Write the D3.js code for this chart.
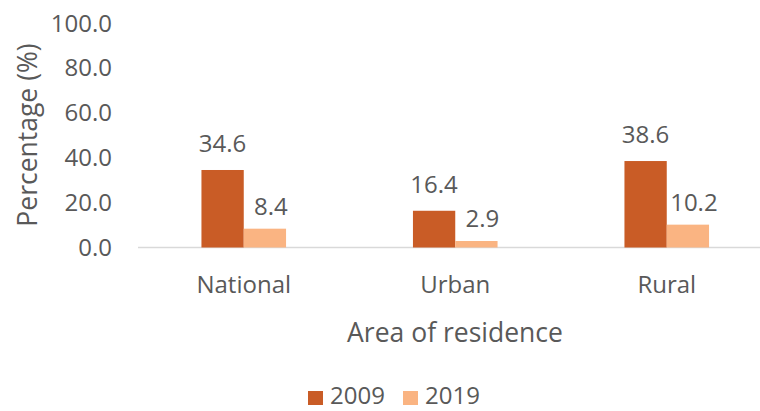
<!DOCTYPE html>
<html><head><meta charset="utf-8">
<script src="https://cdn.jsdelivr.net/npm/d3@7"></script>
<style>body{margin:0;background:#fff}svg{display:block;font-family:"Open Sans",sans-serif}</style>
</head><body>
<svg id="c" width="760" height="411"></svg>
<script>
const categories = ["National", "Urban", "Rural"];
const seriesNames = ["2009", "2019"];
const values2009 = [34.6, 16.4, 38.6];
const values2019 = [8.4, 2.9, 10.2];
const yTicks = [0, 20, 40, 60, 80, 100];
const colors = ["#C95C26", "#FAB482"];

const svg = d3.select("#c");
const x = d3.scaleBand().domain(categories).range([138, 772.5]).padding(0);
const y = d3.scaleLinear().domain([0, 100]).range([247.5, 23.5]);
const barW = x.bandwidth() * 0.2;
const textCol = "#595959";
const series = [values2009, values2019];
const labelDx = [0, 6];
const labelDy = [18, 14];

// baseline
svg.append("line").attr("x1", 138).attr("x2", 772.5).attr("y1", y(0)).attr("y2", y(0))
  .attr("stroke", "#d9d9d9").attr("stroke-width", 1.5);

// y tick labels
const ya = d3.axisLeft(y).tickValues(yTicks).tickFormat(d3.format(".1f")).tickSize(0).tickPadding(0);
const yg = svg.append("g").attr("transform", "translate(112,0)").call(ya);
yg.select(".domain").remove();
yg.selectAll("text").attr("fill", textCol).attr("font-size", 24).attr("font-family", '"Open Sans",sans-serif');

// bars
series.forEach((vals, si) => {
  svg.append("g").selectAll("rect").data(vals).join("rect")
    .attr("x", (d, i) => x(categories[i]) + x.bandwidth() / 2 - barW + si * barW)
    .attr("width", barW)
    .attr("y", d => y(d))
    .attr("height", d => y(0) - y(d))
    .attr("fill", colors[si]);
  svg.append("g").selectAll("text").data(vals).join("text")
    .attr("x", (d, i) => x(categories[i]) + x.bandwidth() / 2 - barW / 2 + si * barW + labelDx[si])
    .attr("y", d => y(d) - labelDy[si])
    .attr("text-anchor", "middle")
    .attr("fill", textCol).attr("font-size", 24)
    .text(d => d3.format(".1f")(d));
});

// x labels
svg.append("g").selectAll("text").data(categories).join("text")
  .attr("x", d => x(d) + x.bandwidth() / 2)
  .attr("y", 293)
  .attr("text-anchor", "middle").attr("fill", textCol).attr("font-size", 24)
  .text(d => d);

// axis titles
svg.append("text").attr("x", 455).attr("y", 342).attr("text-anchor", "middle")
  .attr("fill", textCol).attr("font-size", 26.5).text("Area of residence");
svg.append("text").attr("transform", "translate(37,135) rotate(-90)").attr("text-anchor", "middle")
  .attr("fill", textCol).attr("font-size", 26.5).text("Percentage (%)");

// legend
const lg = svg.append("g");
const legX = [308, 403];
seriesNames.forEach((n, i) => {
  lg.append("rect").attr("x", legX[i]).attr("y", 391).attr("width", 15).attr("height", 14).attr("fill", colors[i]);
  lg.append("text").attr("x", legX[i] + 22).attr("y", 404).attr("fill", textCol).attr("font-size", 24).text(n);
});
</script>
</body></html>
